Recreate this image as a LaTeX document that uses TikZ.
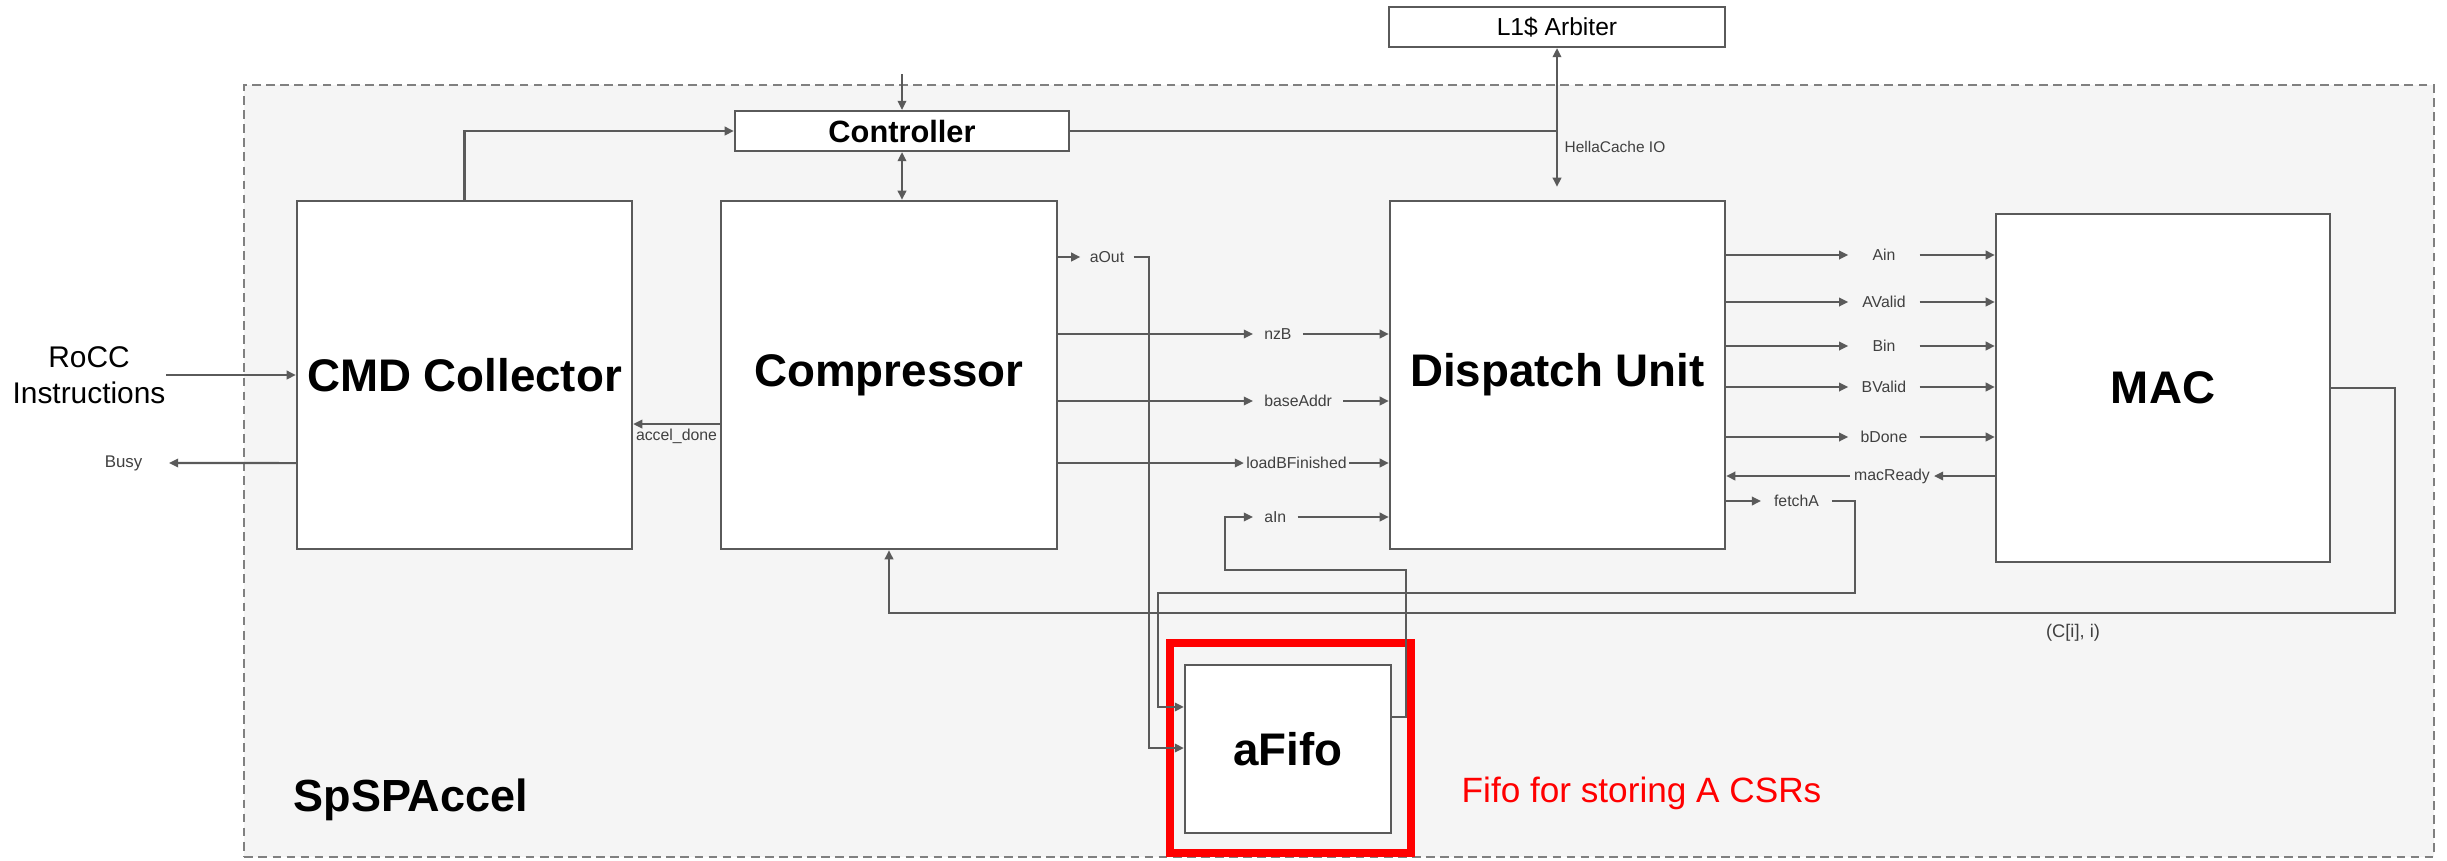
\documentclass[tikz,border=0pt]{standalone}
\usepackage{fontspec}
\setmainfont{Liberation Sans}
\usetikzlibrary{arrows.meta,positioning}

\definecolor{edgegray}{HTML}{5A5A5A}
\definecolor{panelgray}{HTML}{F5F5F5}

\tikzset{
    block/.style={draw=edgegray, line width=0.6pt, fill=white, inner sep=0pt,
        font=\bfseries\fontsize{13}{15}\selectfont},
    sig/.style={inner xsep=3pt, inner ysep=1pt, text=black!75,
        font=\fontsize{4.5}{5.5}\selectfont},
    maclbl/.style={sig, inner sep=0pt, minimum width=0.7cm},
    link/.style={draw=edgegray, line width=0.6pt, ->},
}

\begin{document}
\begin{tikzpicture}[x=0.01cm, y=-0.01cm, >={Triangle[length=2.6pt,width=2.4pt]}]
    \useasboundingbox (0,0) rectangle (2447,860);

    \node[draw=gray, fill=panelgray, line width=0.6pt, dash pattern=on 2.5pt off 1.5pt,
        minimum width=21.88cm, minimum height=7.72cm] (accel) at (1339,471) {};
    \node[anchor=west, inner sep=0pt, font=\bfseries\fontsize{12.8}{15}\selectfont] (title) at (293,800) {SpSPAccel};

    \node[block, minimum width=3.35cm, minimum height=3.48cm] (cmd) at (464.5,375) {CMD Collector};
    \node[block, minimum width=3.36cm, minimum height=3.48cm] (comp) at (889,375) {Compressor};
    \node[block, minimum width=3.35cm, minimum height=3.48cm] (disp) at (1557.5,375) {Dispatch Unit};
    \node[block, minimum width=3.34cm, minimum height=3.48cm] (mac) at (2163,388) {MAC};
    \node[block, minimum width=2.06cm, minimum height=1.68cm] (afifo) at (1288,749) {aFifo};
    \node[block, minimum width=3.34cm, minimum height=0.40cm,
        font=\bfseries\fontsize{8.75}{10}\selectfont] (ctrl) at (902,131) {Controller};
    \node[block, minimum width=3.36cm, minimum height=0.40cm,
        font=\fontsize{7}{8}\selectfont] (arb) at (1557,27) {L1\$ Arbiter};

    \node[draw=red, line width=2.3pt, inner sep=0pt, minimum width=2.41cm,
        minimum height=2.10cm] (mark) at (1290.5,748) {};
    \node[anchor=west, text=red, inner sep=0pt, font=\fontsize{10}{12}\selectfont] (note) at (1461,793) {Fifo for storing A CSRs};

    % outside world
    \node[align=center, inner sep=0pt, font=\fontsize{8.5}{10.2}\selectfont] (rocc) at (89,375) {RoCC\\Instructions};
    \draw[link] (rocc.east) -- (cmd.west);
    \node[sig, inner sep=0pt, anchor=east, font=\fontsize{4.8}{6}\selectfont] (busy) at (143,463) {Busy};
    \draw[link] ([yshift=-0.88cm]cmd.west) -- ([xshift=0.26cm]busy.east);
    \draw[link] ([yshift=-0.49cm]comp.west) -- node[sig, below] (adone) {accel\_done} ([yshift=-0.49cm]cmd.east);

    % control and memory
    \coordinate (ctrlin) at (902,74);
    \draw[link] (ctrlin) -- (ctrl.north);
    \draw[link] (cmd.north) |- (ctrl.west);
    \draw[link, <->] (ctrl.south) -- (ctrl.south |- comp.north);
    \draw[edgegray, line width=0.6pt] (ctrl.east) -- (ctrl.east -| arb.south);
    \draw[link, <->, shorten >=0.13cm] (arb.south) -- (arb.south |- disp.north);
    \node[sig, anchor=west, inner sep=0pt, font=\fontsize{4.4}{5}\selectfont] (hc) at (1564,147) {HellaCache IO};

    % compressor to dispatch
    \node[sig, inner xsep=2.5pt] (aout) at (1107,257) {aOut};
    \node[sig, anchor=west] (nzb) at (1253,334) {nzB};
    \node[sig, anchor=west] (base) at (1253,401) {baseAddr};
    \node[sig, inner xsep=0.5pt] (ldb) at (1296.5,463) {loadBFinished};
    \node[sig, anchor=west] (ain) at (1253,517) {aIn};
    \foreach \nm in {nzb, base, ldb} {
        \draw[link] (comp.east |- \nm) -- (\nm.west);
        \draw[link] (\nm.east) -- (disp.west |- \nm);
    }
    \draw[link] (comp.east |- aout) -- (aout.west);
    \coordinate (aoutdn) at (1149,748);
    \draw[link] (aout.east) -| (aoutdn) -- (afifo.west |- aoutdn);
    \draw[link] ([yshift=0.32cm]afifo.east) -- ++(14,0) |- (1225,570) |- (ain.west);
    \draw[link] (ain.east) -- (disp.west |- ain);

    % dispatch to mac
    \foreach \nm/\txt/\yy in {ainm/Ain/255, avalid/AValid/302, binm/Bin/346, bvalid/BValid/387, bdone/bDone/437} {
        \node[maclbl] (\nm) at (1884,\yy) {\txt};
        \draw[link] (disp.east |- \nm) -- (\nm.west);
        \draw[link] (\nm.east) -- (mac.west |- \nm);
    }
    \node[sig, inner xsep=1pt] (mrdy) at (1892,476) {macReady};
    \draw[link] (mac.west |- mrdy) -- (mrdy.east);
    \draw[link] (mrdy.west) -- (disp.east |- mrdy);

    \node[sig, inner xsep=3.5pt] (fetch) at (1796.5,501) {fetchA};
    \draw[link] (disp.east |- fetch) -- (fetch.west);
    \draw[link] (fetch.east) -| (1855,593) -- (1158,593) |- ([yshift=0.42cm]afifo.west);

    \draw[link] (mac.east) -| (2395,613) -| (comp.south);
    \node[sig, font=\fontsize{5.2}{6}\selectfont] (cout) at (2073,633) {(C[i], i)};
\end{tikzpicture}
\end{document}
